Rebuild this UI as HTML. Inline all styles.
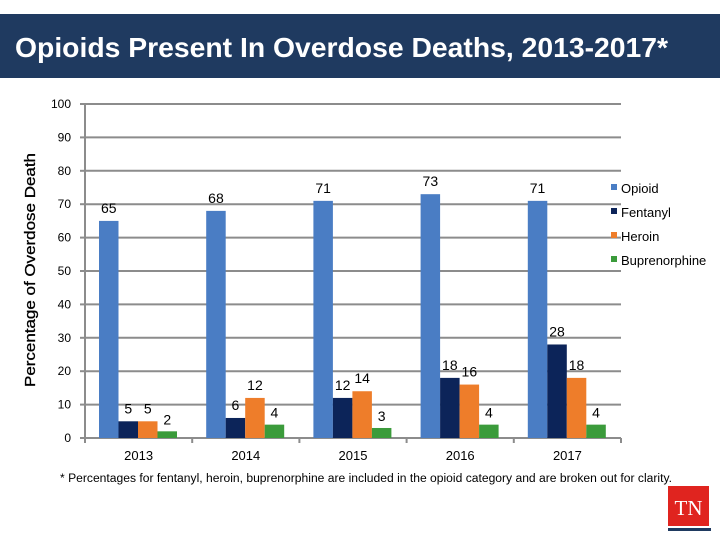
<!DOCTYPE html>
<html><head><meta charset="utf-8"><style>
body{margin:0;background:#fff;}
svg{display:block;font-family:"Liberation Sans",sans-serif;}
</style></head><body>
<svg id="c" width="720" height="540">
<rect x="0" y="14" width="720" height="64" fill="#1f3a60"/>
<text x="15" y="57" fill="#fff" font-size="28" font-weight="bold" textLength="653" lengthAdjust="spacingAndGlyphs">Opioids Present In Overdose Deaths, 2013-2017*</text>
<text transform="translate(35,270) rotate(-90)" text-anchor="middle" font-size="14.5" fill="#000" textLength="234" lengthAdjust="spacingAndGlyphs" stroke="#000" stroke-width="0.3">Percentage of Overdose Death</text>
<g id="grid"></g><g id="bars"></g><g id="labels"></g><g id="legend"></g>
<text x="60" y="482" font-size="11.5" fill="#000" textLength="612" lengthAdjust="spacingAndGlyphs">*  Percentages for fentanyl, heroin, buprenorphine are included in the opioid category and are broken out for clarity.</text>
<rect x="668" y="486" width="41" height="40" fill="#e0241f"/>
<text x="688.5" y="515" text-anchor="middle" font-family="Liberation Serif,serif" font-size="21" fill="#fff">TN</text>
<rect x="668" y="528" width="43" height="3" fill="#1f3a60"/>
</svg>
<script>
const categories=["2013","2014","2015","2016","2017"];
const seriesNames=["Opioid","Fentanyl","Heroin","Buprenorphine"];
const opioid=[65,68,71,73,71];
const fentanyl=[5,6,12,18,28];
const heroin=[5,12,14,16,18];
const bup=[2,4,3,4,4];
const yTicks=[0,10,20,30,40,50,60,70,80,90,100];
const colors=["#4a7dc4","#0c2459","#ee7d2a","#3b9b3b"];
const NS="http://www.w3.org/2000/svg";
const x0=85,x1=621,y0=438,yTop=104;
const gw=(x1-x0)/categories.length,bw=19.5,off=14;
function y(v){return y0-(v/100)*(y0-yTop);}
function xb(i,s){return x0+i*gw+off+s*bw;}
function mk(t,a,p){const e=document.createElementNS(NS,t);for(const k in a)e.setAttribute(k,a[k]);p.appendChild(e);return e;}
const grid=document.getElementById('grid');
yTicks.forEach(v=>{
 if(v>0){const l=mk('line',{x1:x0,x2:x1,y1:y(v),y2:y(v),stroke:'#8c8c8c','stroke-width':2},grid);
 
 }
 const tk=mk('line',{x1:x0-5,x2:x0,y1:y(v),y2:y(v),stroke:'#8c8c8c','stroke-width':2},grid);
 
 
 const t=mk('text',{x:x0-14,y:y(v)+4,'text-anchor':'end','font-size':12,fill:'#000'},grid);t.textContent=v;
 
 
});
const ax=mk('line',{x1:x0,x2:x0,y1:yTop,y2:y0+5,stroke:'#8c8c8c','stroke-width':2},grid);


const xa=mk('line',{x1:x0,x2:x1,y1:y0,y2:y0,stroke:'#8c8c8c','stroke-width':2},grid);


categories.forEach((c,i)=>{
 const tk=mk('line',{x1:x0+(i+1)*gw,x2:x0+(i+1)*gw,y1:y0,y2:y0+5,stroke:'#8c8c8c','stroke-width':2},grid);
 
 
 const t=mk('text',{x:x0+(i+0.5)*gw,y:y0+22,'text-anchor':'middle','font-size':13,fill:'#000'},grid);t.textContent=c;
 
 
});
const bars=document.getElementById('bars'),labels=document.getElementById('labels');
const series=[opioid,fentanyl,heroin,bup];
series.forEach((arr,s)=>{arr.forEach((v,i)=>{
 const r=mk('rect',{x:xb(i,s),y:y(v),width:bw,height:y0-y(v),fill:colors[s]},bars);
 
 
 const t=mk('text',{x:xb(i,s)+bw/2,y:y(v)-(s===3?7:8),'text-anchor':'middle','font-size':14,fill:'#000'},labels);t.textContent=v;
 
 
});});
const lg=document.getElementById('legend');
seriesNames.forEach((n,s)=>{
 const ly=189+s*24;
 const r=mk('rect',{x:611,y:ly-5,width:6,height:6,fill:colors[s]},lg);
 
 
 const t=mk('text',{x:621,y:ly+4,'font-size':13,fill:'#000'},lg);t.textContent=n;
 
 
});
</script>
</body></html>
